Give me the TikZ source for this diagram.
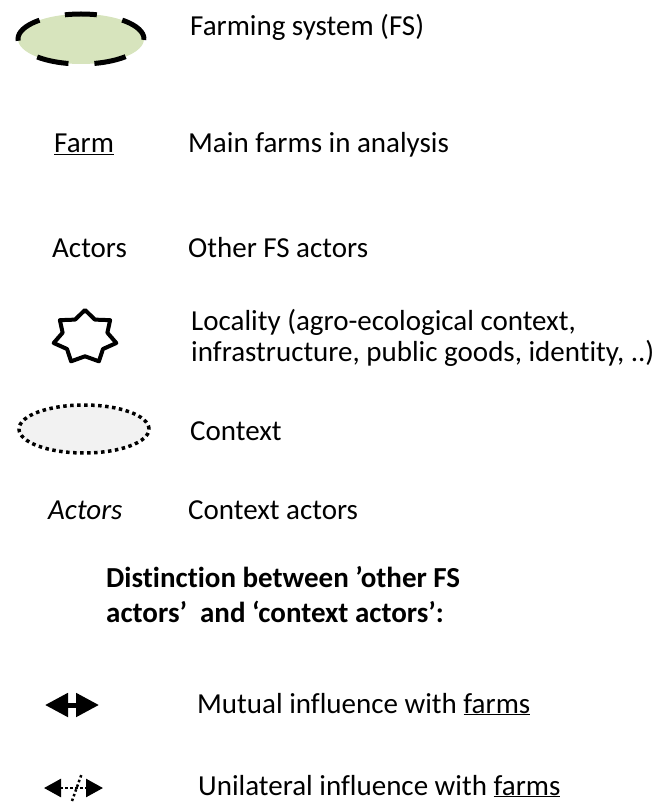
\documentclass[tikz,border=0pt]{standalone}
\usepackage{fontspec}
\setmainfont{Carlito}[Ligatures=NoCommon]
\usepackage{tikz}
\usetikzlibrary{shapes.geometric}
\usetikzlibrary{arrows.meta}

\definecolor{fsgreen}{RGB}{215,228,189}
\definecolor{ctxgray}{RGB}{242,242,242}

\tikzset{
  legtext/.style={inner sep=0pt, anchor=base west, font=\fontsize{29}{31}\selectfont},
  legsym/.style={inner sep=0pt, anchor=center},
  dotline/.style={line width=2.5pt, dash pattern=on 2.5pt off 2.5pt}
}

\begin{document}
\begin{tikzpicture}[x=1pt, y=-1pt]
            \useasboundingbox (0,0) rectangle (665,802);

            % symbols
            \node[legsym, ellipse, draw, fill=fsgreen, line width=5pt,
                  dash pattern=on 32pt off 26pt, dash phase=1.5pt,
                  minimum width=126pt, minimum height=50pt] (fs) at (81,39) {};
            \node[legsym, star, star points=7, star point ratio=1.4, draw,
                  line width=4pt, line join=round, minimum size=54pt,
                  xscale=1.19] (loc) at (85,337) {};
            \node[legsym, ellipse, draw, fill=ctxgray, line width=3.5pt,
                  dash pattern=on 3.5pt off 3.5pt,
                  minimum width=130pt, minimum height=48pt] (ctx) at (84,429) {};

            % texts
            \node[legtext] (fslbl)   at (190,36)  {Farming system (FS)};
            \node[legtext] (farm)    at (54,153)  {\underline{Farm}};
            \node[legtext] (farmlbl) at (188,153) {Main farms in analysis};
            \node[legtext] (act)     at (52,257)  {Actors};
            \node[legtext] (actlbl)  at (188,257) {Other FS actors};
            \node[legtext, align=left] (loclbl) at (191,361)
                 {Locality (agro-ecological context,\\infrastructure, public goods, identity, ..)};
            \node[legtext] (ctxlbl)  at (190,440) {Context};
            \node[legtext] (cact)    at (48,519)  {\textit{Actors}};
            \node[legtext] (cactlbl) at (188,519) {Context actors};
            \node[legtext, align=left, font=\fontsize{29}{35}\bfseries] (dist) at (106,622)
                 {Distinction between ’other FS\\actors’\ \ and ‘context actors’:};
            \node[legtext] (mutlbl)  at (197,713) {Mutual influence with \underline{farms}};
            \node[legtext] (unilbl)  at (198,795) {Unilateral influence with \underline{farms}};

            % arrows
            \coordinate (mutL) at (45,705);
            \coordinate (mutR) at (99,705);
            \draw[line width=5pt, {Triangle[length=23pt,width=23pt]}-{Triangle[length=23pt,width=23pt]}] (mutL) -- (mutR);

            \coordinate (uniL) at (44,788);
            \coordinate (uniR) at (103,788);
            \coordinate (cutA) at (72,801);
            \coordinate (cutB) at (82,773);
            \draw[dotline, {Triangle[length=17pt,width=18pt]}-{Triangle[length=17pt,width=18pt]}] (uniL) -- (uniR);
            \draw[dotline] (cutA) -- (cutB);
        \end{tikzpicture}
\end{document}
